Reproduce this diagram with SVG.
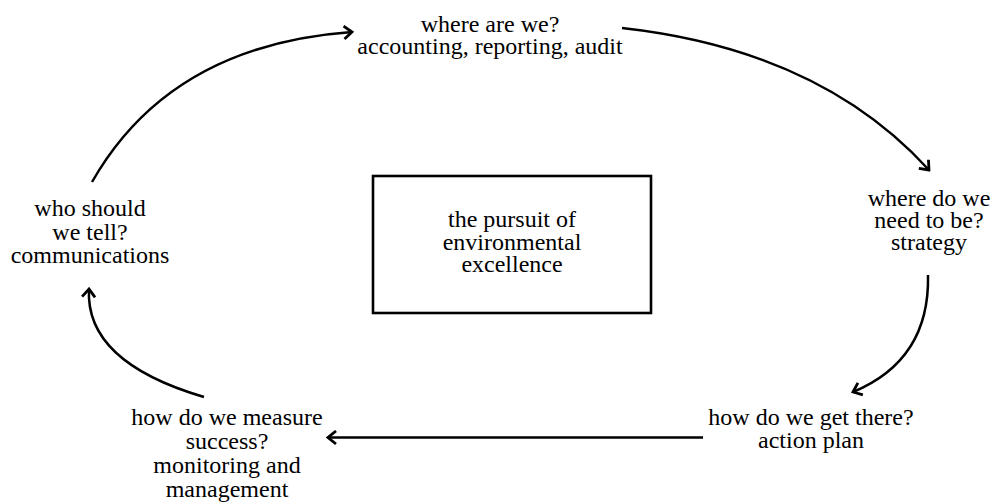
<svg xmlns="http://www.w3.org/2000/svg" width="991" height="502" viewBox="0 0 991 502">
<defs>
<marker id="ah" viewBox="-11 -8 13 16" refX="0" refY="0" markerWidth="13" markerHeight="16" markerUnits="userSpaceOnUse" orient="auto">
<path d="M-8,-6.5 L0,0 L-8,6.5" fill="none" stroke="#000" stroke-width="2.8"/>
</marker>
</defs>
<rect width="991" height="502" fill="#fff"/>
<g id="connectors" fill="none" stroke="#000" stroke-width="2.5" marker-end="url(#ah)">
<path d="M92,182 Q170,45 352,32"/>
<path d="M622,28 Q820,50 929,170"/>
<path d="M928,275 Q930,360 853,392"/>
<path d="M703,437.5 L328,437.5"/>
<path d="M204,397 Q85,362 89,289"/>
</g>
<g id="center">
<rect x="373" y="176" width="278" height="137" fill="#fff" stroke="#000" stroke-width="2.6"/>
<text x="512" y="227" font-family="Times New Roman" font-size="24" text-anchor="middle">the pursuit of</text>
<text x="512" y="249.5" font-family="Times New Roman" font-size="24" text-anchor="middle">environmental</text>
<text x="512" y="272" font-family="Times New Roman" font-size="24" text-anchor="middle">excellence</text>
</g>
<g id="where-are-we">
<text x="490" y="32" font-family="Times New Roman" font-size="24" text-anchor="middle">where are we?</text>
<text x="490" y="54" font-family="Times New Roman" font-size="24" text-anchor="middle">accounting, reporting, audit</text>
</g>
<g id="where-need">
<text x="929" y="206" font-family="Times New Roman" font-size="24" text-anchor="middle">where do we</text>
<text x="929" y="228" font-family="Times New Roman" font-size="24" text-anchor="middle">need to be?</text>
<text x="929" y="250" font-family="Times New Roman" font-size="24" text-anchor="middle">strategy</text>
</g>
<g id="how-get-there">
<text x="811" y="425" font-family="Times New Roman" font-size="24" text-anchor="middle">how do we get there?</text>
<text x="811" y="448" font-family="Times New Roman" font-size="24" text-anchor="middle">action plan</text>
</g>
<g id="how-measure">
<text x="227" y="425" font-family="Times New Roman" font-size="24" text-anchor="middle">how do we measure</text>
<text x="227" y="449" font-family="Times New Roman" font-size="24" text-anchor="middle">success?</text>
<text x="227" y="473" font-family="Times New Roman" font-size="24" text-anchor="middle">monitoring and</text>
<text x="227" y="497" font-family="Times New Roman" font-size="24" text-anchor="middle">management</text>
</g>
<g id="who-tell">
<text x="90" y="216" font-family="Times New Roman" font-size="24" text-anchor="middle">who should</text>
<text x="90" y="240" font-family="Times New Roman" font-size="24" text-anchor="middle">we tell?</text>
<text x="90" y="263" font-family="Times New Roman" font-size="24" text-anchor="middle">communications</text>
</g>
</svg>
